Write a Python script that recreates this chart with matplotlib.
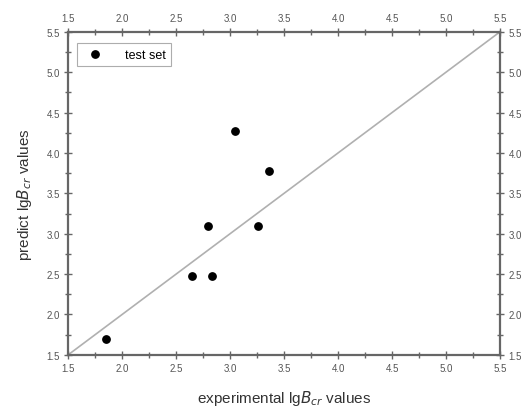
import matplotlib.pyplot as plt
from matplotlib.ticker import MultipleLocator

plt.rcParams['font.family'] = ['Liberation Sans', 'DejaVu Sans']

exp_vals = [1.85, 2.65, 2.83, 2.80, 3.26, 3.05, 3.36]
pred_vals = [1.70, 2.48, 2.48, 3.10, 3.10, 4.27, 3.78]
diag = [1.5, 5.5]

fig = plt.figure(figsize=(5.28, 4.10), dpi=100)
ax = fig.add_axes([0.129, 0.132, 0.818, 0.788])

ax.plot(diag, diag, color='#b0b0b0', lw=1.2, zorder=1)
ax.scatter(exp_vals, pred_vals, s=28, color='black', label='test set', zorder=3)

ax.set_xlim(1.5, 5.5)
ax.set_ylim(1.5, 5.5)
ax.xaxis.set_major_locator(MultipleLocator(0.5))
ax.yaxis.set_major_locator(MultipleLocator(0.5))
ax.xaxis.set_minor_locator(MultipleLocator(0.25))
ax.yaxis.set_minor_locator(MultipleLocator(0.25))
ax.xaxis.set_major_formatter('{x:.1f}')
ax.yaxis.set_major_formatter('{x:.1f}')

gray = '#666666'
for sp in ax.spines.values():
    sp.set_color(gray)
    sp.set_linewidth(1.6)
# ticks and labels on all four sides
ax.tick_params(which='both', top=True, right=True, labeltop=True, labelright=True)
ax.tick_params(which='major', direction='inout', length=6, width=1, color=gray,
               labelsize=7, labelcolor='#555555', pad=3)
ax.tick_params(which='minor', direction='inout', length=4, width=1, color=gray)

ax.set_xlabel('experimental lg$B_{cr}$ values', fontsize=11, color='#333333', labelpad=11)
ax.set_ylabel('predict lg$B_{cr}$ values', fontsize=11, color='#333333', labelpad=9)

leg = ax.legend(loc='upper left', fontsize=9, frameon=True, fancybox=False,
                handletextpad=1.4, borderpad=0.45, bbox_to_anchor=(0.005, 0.985))
leg.get_frame().set_edgecolor('#999999')
leg.get_frame().set_linewidth(0.8)

fig.savefig('out.png', dpi=100)
